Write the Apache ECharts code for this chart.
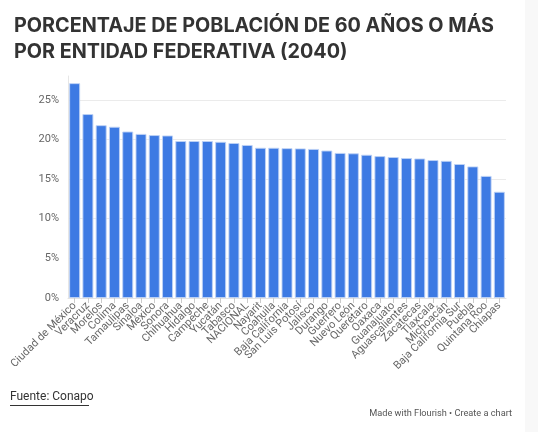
<!DOCTYPE html>
<html>
<head>
<meta charset="utf-8">
<script src="https://cdn.jsdelivr.net/npm/echarts@6/dist/echarts.min.js"></script>
<style>
html,body{margin:0;padding:0;background:#fff;}
#c{width:538px;height:432px;}
</style>
</head>
<body>
<div id="c"></div>
<script>
const categories = ["Ciudad de México","Veracruz","Morelos","Colima","Tamaulipas","Sinaloa","México","Sonora","Chihuahua","Hidalgo","Campeche","Yucatán","Tabasco","NACIONAL","Nayarit","Coahuila","Baja California","San Luis Potosí","Jalisco","Durango","Guerrero","Nuevo León","Querétaro","Oaxaca","Guanajuato","Aguascalientes","Zacatecas","Tlaxcala","Michoacán","Baja California Sur","Puebla","Quintana Roo","Chiapas"];
const values = [27.1,23.2,21.8,21.6,21.0,20.7,20.55,20.5,19.8,19.8,19.8,19.7,19.55,19.3,18.95,18.95,18.9,18.87,18.8,18.6,18.3,18.25,18.07,17.9,17.78,17.65,17.6,17.4,17.3,16.9,16.6,15.4,13.4];
const titleText = "PORCENTAJE DE POBLACIÓN DE 60 AÑOS O MÁS\nPOR ENTIDAD FEDERATIVA (2040)";
const sourceText = "Fuente: Conapo";
const creditText = "Made with Flourish • Create a chart";

const chart = echarts.init(document.getElementById('c'), null, {renderer:'canvas'});
const gridCol = '#ebebeb';
chart.setOption({
  backgroundColor: '#ffffff',
  animation: false,
  title: {
    text: titleText,
    left: 9, top: 8,
    textStyle: {fontFamily: 'Inter', fontSize: 19.8, fontWeight: 'bold', color: '#333333', lineHeight: 26}
  },
  graphic: [
    {type:'rect', shape:{x:525,y:0,width:13,height:432}, style:{fill:'#f8f8f8'}, silent:true},
    {type:'text', left:10, top:391, style:{text:sourceText, font:'12px Roboto', fill:'#333'}},
    {type:'line', shape:{x1:10,y1:405.5,x2:89,y2:405.5}, style:{stroke:'#333', lineWidth:1}},
    {type:'text', right:26, top:409, style:{text:creditText, font:'9.2px Roboto', fill:'#555'}}
  ],
  grid: {left: 68, right: 32, top: 76, bottom: 134},
  xAxis: {
    type: 'category',
    data: categories,
    axisLine: {show:true, lineStyle:{color:'#e3e3e3'}},
    axisTick: {show:true, alignWithLabel:true, length:5, lineStyle:{color:'#cccccc'}},
    axisLabel: {interval:0, rotate:45, fontSize:11, color:'#666', fontFamily:'Roboto', margin:6}
  },
  yAxis: {
    type: 'value',
    min: 0, max: 28, interval: 5,
    axisLine: {show:true, lineStyle:{color:'#e6e6e6'}},
    axisTick: {show:false},
    axisLabel: {formatter:'{value}%', fontSize:11, color:'#666', fontFamily:'Roboto', margin:9, showMaxLabel:false},
    splitLine: {show:true, lineStyle:{color:[gridCol,gridCol,gridCol,gridCol,gridCol,gridCol,'rgba(0,0,0,0)']}}
  },
  series: [{
    type: 'bar',
    data: values,
    barCategoryGap: '17%',
    itemStyle: {color:'#3d7ae3', borderColor:'rgba(190,210,245,0.9)', borderWidth:1}
  }]
});
</script>
</body>
</html>
